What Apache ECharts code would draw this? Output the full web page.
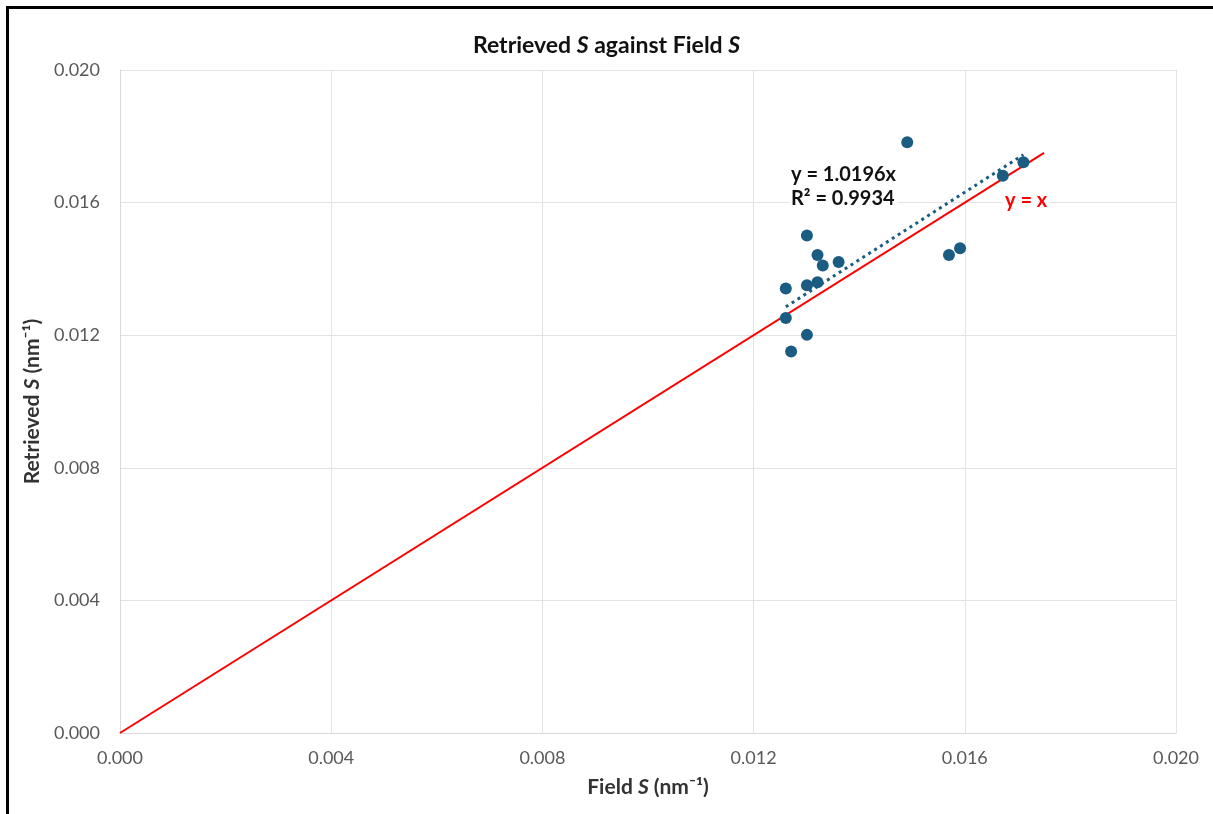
<!DOCTYPE html>
<html>
<head>
<meta charset="utf-8">
<script src="https://cdn.jsdelivr.net/npm/echarts@6/dist/echarts.min.js"></script>
<style>
  html, body { margin: 0; padding: 0; background: #fff; }
  #chart { width: 1213px; height: 814px; }
</style>
</head>
<body>
<div id="chart"></div>
<script>
// Field vs retrieved S (nm^-1)
const fieldS = [0.01491, 0.01711, 0.01672, 0.01301, 0.01321, 0.01331, 0.01361, 0.01570, 0.01591,
                0.01261, 0.01301, 0.01321, 0.01261, 0.01301, 0.01271];
const retrievedS = [0.01782, 0.01722, 0.01681, 0.01501, 0.01442, 0.01410, 0.01421, 0.01442, 0.01462,
                    0.01341, 0.01351, 0.01360, 0.01252, 0.01201, 0.01151];
const trendSlope = 1.0196;
const trendR2 = 0.9934;
const identityRange = [0, 0.0175];
const axisTicks = [0.000, 0.004, 0.008, 0.012, 0.016, 0.020];

const points = fieldS.map((x, i) => [x, retrievedS[i]]);
const xMin = Math.min(...fieldS), xMax = Math.max(...fieldS);
const trendLine = [[xMin, trendSlope * xMin], [xMax, trendSlope * xMax]];
const identityLine = identityRange.map(v => [v, v]);

const FONT = 'Lato, "Open Sans", sans-serif';
const markColor = '#1B5C82';

const chart = echarts.init(document.getElementById('chart'), null, { renderer: 'canvas' });

const nameStyle = {
  fontFamily: FONT, fontSize: 21, fontWeight: 'bold', color: '#333333',
  rich: { i: { fontFamily: FONT, fontSize: 21, fontWeight: 'bold', fontStyle: 'italic', color: '#333333' } }
};

const axisCommon = {
  type: 'value',
  min: axisTicks[0],
  max: axisTicks[axisTicks.length - 1],
  interval: 0.004,
  axisLine: { show: true, lineStyle: { color: '#d9d9d9', width: 1 } },
  axisTick: { show: false },
  splitLine: { show: true, lineStyle: { color: '#e3e3e3', width: 1 } },
  nameLocation: 'middle',
  nameTextStyle: nameStyle
};
const labelStyle = { color: '#595959', fontSize: 18, fontFamily: FONT, formatter: v => v.toFixed(3) };

chart.setOption({
  backgroundColor: '#fff',
  animation: false,
  title: {
    text: 'Retrieved {i|S} against Field {i|S}',
    left: 'center',
    top: 29,
    textStyle: {
      fontFamily: FONT, fontSize: 23, fontWeight: 'bold', color: '#111111',
      rich: { i: { fontFamily: FONT, fontSize: 23, fontWeight: 'bold', fontStyle: 'italic', color: '#111111' } }
    }
  },
  grid: { left: 120, right: 37, top: 70, bottom: 81, containLabel: false },
  xAxis: Object.assign({}, axisCommon, {
    name: 'Field {i|S} (nm⁻¹)',
    nameGap: 44,
    axisLabel: Object.assign({}, labelStyle, { margin: 16 })
  }),
  yAxis: Object.assign({}, axisCommon, {
    name: 'Retrieved {i|S} (nm⁻¹)',
    nameGap: 66,
    axisLabel: Object.assign({}, labelStyle, { margin: 20 })
  }),
  series: [
    {
      name: 'y = x',
      type: 'line',
      data: identityLine,
      symbol: 'none',
      lineStyle: { color: '#ff0000', width: 2 },
      z: 2
    },
    {
      name: 'Trend',
      type: 'line',
      data: trendLine,
      symbol: 'none',
      lineStyle: { color: markColor, width: 3, type: [3, 4] },
      z: 3
    },
    {
      name: 'Retrieved S',
      type: 'scatter',
      data: points,
      symbol: 'circle',
      symbolSize: 12,
      itemStyle: { color: markColor, opacity: 1 },
      z: 4
    }
  ],
  graphic: [
    {
      type: 'rect',
      shape: { x: 7.5, y: 7.5, width: 1300, height: 900 },
      style: { fill: 'none', stroke: '#000', lineWidth: 3 },
      silent: true,
      z: 100
    },
    {
      type: 'text',
      left: 789, top: 161,
      z: 50,
      style: {
        text: 'y = ' + trendSlope.toFixed(4) + 'x\nR² = ' + trendR2.toFixed(4),
        font: 'bold 20px ' + FONT, fill: '#111111', lineHeight: 24,
        backgroundColor: '#ffffff', padding: [2, 2, 2, 2]
      }
    },
    {
      type: 'text',
      left: 1003, top: 189,
      z: 50,
      style: {
        text: 'y = x', font: 'bold 20px ' + FONT, fill: '#ff0000',
        backgroundColor: '#ffffff', padding: [2, 2, 2, 2]
      }
    }
  ]
});
</script>
</body>
</html>
